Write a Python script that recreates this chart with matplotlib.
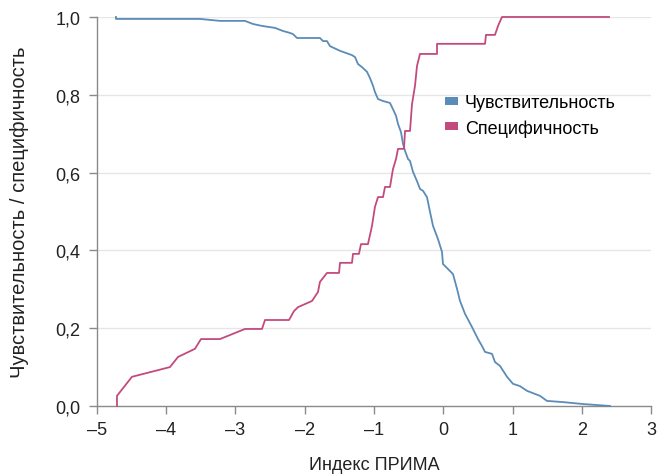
import matplotlib
matplotlib.use("Agg")
import matplotlib.pyplot as plt
from matplotlib.patches import Patch

plt.rcParams['font.family'] = ['Liberation Sans', 'DejaVu Sans']

# Sensitivity curve (Чувствительность)
sens_x = [-4.726, -4.726, -3.513, -3.224, -2.863, -2.747, -2.617, -2.430, -2.314, -2.213,
          -2.170, -2.112, -1.780, -1.736, -1.679, -1.635, -1.491, -1.318, -1.274, -1.231,
          -1.173, -1.101, -1.058, -1.014, -0.986, -0.942, -0.870, -0.769, -0.726, -0.682,
          -0.653, -0.610, -0.581, -0.552, -0.509, -0.480, -0.437, -0.379, -0.336, -0.292,
          -0.235, -0.191, -0.148, -0.076, -0.018, -0.004, 0.069, 0.141, 0.199, 0.242,
          0.314, 0.415, 0.502, 0.560, 0.603, 0.704, 0.747, 0.819, 0.921, 1.007,
          1.108, 1.209, 1.397, 1.498, 1.729, 2.018, 2.408]
sens_y = [1.000, 0.995, 0.995, 0.990, 0.990, 0.982, 0.977, 0.972, 0.964, 0.959,
          0.956, 0.946, 0.946, 0.938, 0.938, 0.925, 0.913, 0.902, 0.897, 0.879,
          0.871, 0.859, 0.843, 0.823, 0.807, 0.789, 0.784, 0.779, 0.763, 0.746,
          0.725, 0.704, 0.674, 0.656, 0.635, 0.630, 0.602, 0.578, 0.558, 0.553,
          0.537, 0.499, 0.463, 0.429, 0.396, 0.365, 0.352, 0.339, 0.301, 0.270,
          0.237, 0.203, 0.172, 0.154, 0.139, 0.134, 0.113, 0.103, 0.075, 0.057,
          0.051, 0.039, 0.026, 0.013, 0.010, 0.005, 0.000]

# Specificity curve (Специфичность)
spec_x = [-4.711, -4.711, -4.495, -3.946, -3.830, -3.585, -3.498, -3.224, -2.863, -2.617,
          -2.574, -2.227, -2.155, -2.097, -1.895, -1.809, -1.780, -1.679, -1.505, -1.491,
          -1.318, -1.303, -1.217, -1.188, -1.087, -1.029, -0.986, -0.942, -0.870, -0.841,
          -0.769, -0.726, -0.682, -0.653, -0.567, -0.552, -0.480, -0.451, -0.408, -0.379,
          -0.336, -0.090, -0.090, 0.603, 0.617, 0.747, 0.791, 0.848, 2.394]
spec_y = [0.000, 0.026, 0.075, 0.100, 0.126, 0.147, 0.172, 0.172, 0.198, 0.198,
          0.221, 0.221, 0.244, 0.254, 0.270, 0.293, 0.319, 0.342, 0.342, 0.368,
          0.368, 0.391, 0.391, 0.416, 0.416, 0.463, 0.512, 0.537, 0.537, 0.563,
          0.563, 0.609, 0.635, 0.661, 0.661, 0.707, 0.707, 0.776, 0.823, 0.874,
          0.905, 0.905, 0.931, 0.931, 0.954, 0.954, 0.977, 1.000, 1.000]

x_ticks = [-5, -4, -3, -2, -1, 0, 1, 2, 3]
x_tick_labels = ['–5', '–4', '–3', '–2', '–1', '0', '1', '2', '3']
y_ticks = [0.0, 0.2, 0.4, 0.6, 0.8, 1.0]
y_tick_labels = ['0,0', '0,2', '0,4', '0,6', '0,8', '1,0']
series_names = ['Чувствительность', 'Специфичность']

blue = '#5b8cb8'
pink = '#c24b7e'
axis_gray = '#8a8a8a'
text_color = '#222222'
fs = 13

fig = plt.figure(figsize=(6.66, 4.77), dpi=100)
ax = fig.add_axes([0.1456, 0.1468, 0.8319, 0.8155])

for yv in y_ticks[1:]:
    ax.axhline(yv, color='#e6e6e6', lw=1.0, zorder=0)

ax.plot(sens_x, sens_y, color=blue, lw=1.3, clip_on=False, zorder=3)
ax.plot(spec_x, spec_y, color=pink, lw=1.3, clip_on=False, zorder=3)

ax.set_xlim(-5, 3)
ax.set_ylim(0, 1.0)
ax.set_xticks(x_ticks)
ax.set_xticklabels(x_tick_labels)
ax.set_yticks(y_ticks)
ax.set_yticklabels(y_tick_labels)

for s in ['top', 'right']:
    ax.spines[s].set_visible(False)
for s in ['left', 'bottom']:
    ax.spines[s].set_color(axis_gray)
    ax.spines[s].set_linewidth(1.0)

ax.tick_params(axis='both', direction='out', length=6, width=1.0, color=axis_gray,
               labelsize=fs, labelcolor=text_color)
ax.tick_params(axis='x', pad=5)
ax.tick_params(axis='y', pad=6)

ax.set_xlabel('Индекс ПРИМА', fontsize=fs, color=text_color, labelpad=13)
ax.set_ylabel('Чувствительность / специфичность', fontsize=14.5, color=text_color, labelpad=19)

handles = [Patch(facecolor=blue, edgecolor='none'), Patch(facecolor=pink, edgecolor='none')]
leg = ax.legend(handles, series_names, loc='upper left', bbox_to_anchor=(0.615, 0.82),
                frameon=False, fontsize=fs, handlelength=0.7, handleheight=0.3,
                handletextpad=0.4, labelspacing=0.45, borderaxespad=0)

fig.savefig('out.png', dpi=100)
